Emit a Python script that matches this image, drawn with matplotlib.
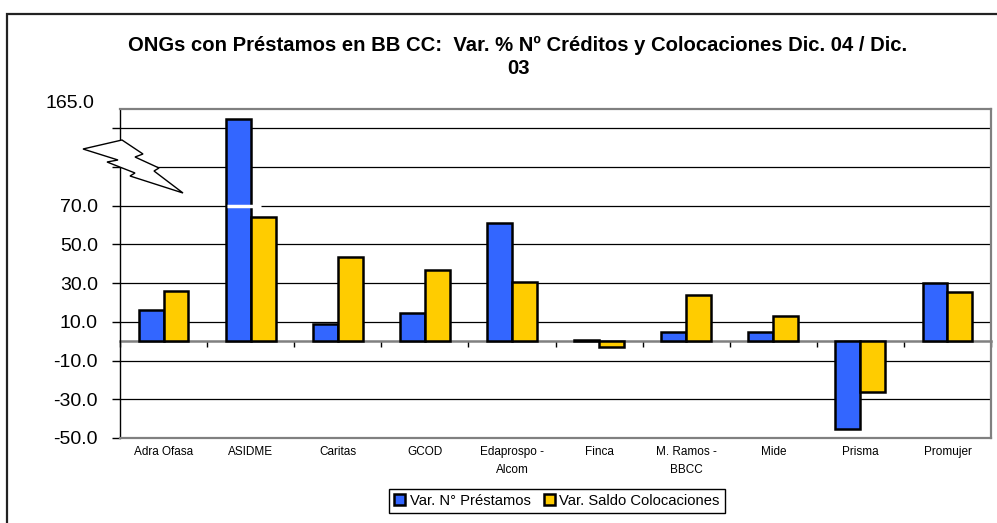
import numpy as np
import matplotlib
matplotlib.use('Agg')
import matplotlib.pyplot as plt
from matplotlib.patches import Polygon, Rectangle

plt.rcParams['font.family'] = ['Liberation Sans', 'DejaVu Sans']

# data (ASIDME bar drawn on the broken axis)
categorias = ['Adra Ofasa', 'ASIDME', 'Caritas', 'GCOD', 'Edaprospo -\nAlcom',
              'Finca', 'M. Ramos -\nBBCC', 'Mide', 'Prisma', 'Promujer']
prestamos = [16.2, 115.0, 8.9, 14.5, 61.0, 0.5, 4.8, 4.8, -45.1, 30.0]
colocaciones = [25.8, 64.2, 43.3, 36.7, 30.6, -2.8, 23.8, 12.9, -26.0, 25.3]
yticks = [-50, -30, -10, 10, 30, 50, 70, 90, 110]
ylabels = ['-50.0', '-30.0', '-10.0', '10.0', '30.0', '50.0', '70.0', '', '']
titulo = 'ONGs con Préstamos en BB CC:  Var. % Nº Créditos y Colocaciones Dic. 04 / Dic.\n03'

W, H = 997, 523
fig = plt.figure(figsize=(W / 100, H / 100), dpi=100)
ax = fig.add_axes([120 / W, 1 - 438 / H, 871 / W, 329 / H])

x = np.arange(len(categorias))
w = 0.286
ax.bar(x - w / 2, prestamos, w, color='#3366FF', edgecolor='black', lw=1.8,
       label='Var. N° Préstamos', zorder=3)
ax.bar(x + w / 2, colocaciones, w, color='#FFCC00', edgecolor='black', lw=1.8,
       label='Var. Saldo Colocaciones', zorder=3)

# break mark on the tall bar
ax.hlines(70, 1 - w + 0.015, 1 + 0.12, color='white', lw=2.5, zorder=5)

ax.set_xlim(-0.5, len(categorias) - 0.5)
ax.set_ylim(-50, 120)
ax.set_yticks(yticks)
ax.set_yticklabels(ylabels, fontsize=14)
ax.tick_params(axis='y', length=6, width=1, pad=10)
ax.set_axisbelow(True)
ax.yaxis.grid(True, color='black', lw=0.9)

ax.set_xticks(x)
ax.set_xticklabels(categorias, fontsize=8.5, linespacing=1.6)
ax.tick_params(axis='x', length=0, pad=6)

for s in ['top', 'right', 'bottom']:
    ax.spines[s].set_color('#808080')
    ax.spines[s].set_linewidth(1.6)
ax.spines['left'].set_color('black')
ax.spines['left'].set_linewidth(1.0)

# zero axis with category boundary ticks
sec = ax.secondary_xaxis(50 / 170)
sec.set_xticks(np.arange(len(categorias) + 1) - 0.5)
sec.set_xticklabels([])
sec.tick_params(axis='x', length=4, width=1, color='black', direction='out')
sec.spines['bottom'].set_color('#808080')
sec.spines['bottom'].set_linewidth(1.8)

fig.text(94 / W, 1 - 103 / H, '165.0', ha='right', va='center', fontsize=14)

# lightning bolt over the axis break
bolt = [(83, 149), (122, 140), (143, 154), (135, 157), (159, 168), (154, 171),
        (183, 193), (130, 176), (135, 173), (107, 162), (118, 160)]
poly = Polygon([(px / W, 1 - py / H) for px, py in bolt], closed=True,
               transform=fig.transFigure, facecolor='white', edgecolor='black',
               lw=1.0, zorder=10)
fig.patches.append(poly)

# outer chart frame
fig.patches.append(Rectangle((7 / W, -0.2), 1.2, 1.2 - 14 / H,
                             transform=fig.transFigure, fill=False,
                             edgecolor='#222222', lw=1.6, zorder=0))

fig.text(518 / W, 1 - 57 / H, titulo, ha='center', va='center',
         fontsize=14.6, fontweight='bold', linespacing=1.25)

fig.legend(loc='center', bbox_to_anchor=(557 / W, 1 - 501 / H), ncol=2,
           fontsize=10.6, frameon=True, fancybox=False, edgecolor='black',
           handlelength=0.75, handleheight=0.75, handletextpad=0.3,
           columnspacing=0.9, borderpad=0.35, framealpha=1)

fig.savefig('out.png', dpi=100)
